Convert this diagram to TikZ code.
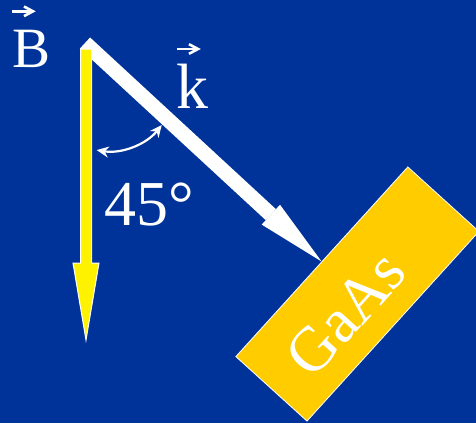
\documentclass[tikz,border=0pt]{standalone}
\usepackage{fontspec}
\setmainfont{Liberation Serif}
\usetikzlibrary{arrows.meta,calc}
\definecolor{slideblue}{RGB}{0,51,153}
\definecolor{gaasgold}{RGB}{255,204,0}

\begin{document}
\begin{tikzpicture}[x=1pt,y=-1pt,
		bigtext/.style={text=white, inner sep=0pt, anchor=base, font=\fontsize{64}{64}\selectfont},
		vecmark/.style={white, line width=2.6pt},
		kbeam/.style={white, line width=15pt, -{Triangle[length=69pt,width=27pt,line width=0pt]}},
		Bfield/.style={fill=yellow, draw=white, line width=1pt},
		gaasbox/.style={fill=gaasgold, draw=white, line width=0.8pt, inner sep=0pt,
			minimum width=256pt, minimum height=96pt, rotate=47.8},
		anglemark/.style={white, line width=2.2pt, {Stealth[length=12pt,width=11pt]}-{Stealth[length=12pt,width=11pt]}}]
		\useasboundingbox (0,0) rectangle (476,423);
		\clip (0,0) rectangle (476,423);
		\fill[slideblue] (0,0) rectangle (476,423);
		
		% Sample
		\node[gaasbox] (gaas) at (357.4,294) {};
		\node[bigtext, rotate=47.8, font=\fontsize{63}{63}\selectfont] (gaaslbl) at (360.9,327.3) {GaAs};
		
		% Wave vector and field
		\coordinate (kstart) at (85,43);
		\coordinate (Bstart) at (86,49);
		\coordinate (Btip) at (86,340);
		\draw[kbeam] (kstart) -- (gaas.north);
		\filldraw[Bfield] ($(Bstart)+(-5.5,0)$) -- ($(Btip)+(-5.5,-77)$) -- ($(Btip)+(-13,-77)$) -- (Btip)
			-- ($(Btip)+(13,-77)$) -- ($(Btip)+(5.5,-77)$) -- ($(Bstart)+(5.5,0)$) -- cycle;
		
		% Angle between them
		\coordinate (arcc) at (108,82.5);
		\draw[anglemark] ($(arcc)+(99.5:68.5)$) arc[start angle=99.5, end angle=38.4, radius=68.5];
		
		% Labels with vector marks
		\node[bigtext, font=\fontsize{57}{57}\selectfont] (Blbl) at (31.5,67.5) {B};
		\draw[vecmark] (12,11.3) -- (32,11.3);
		\draw[vecmark] (24,6.5) -- (33,11.3) -- (24,16.1);
		\node[bigtext] (klbl) at (192.5,108) {k};
		\draw[vecmark] (177,49) -- (197,49);
		\draw[vecmark] (189,44.2) -- (198,49) -- (189,53.8);
		\node[bigtext] (anglbl) at (149,225) {45°};
	\end{tikzpicture}
\end{document}
